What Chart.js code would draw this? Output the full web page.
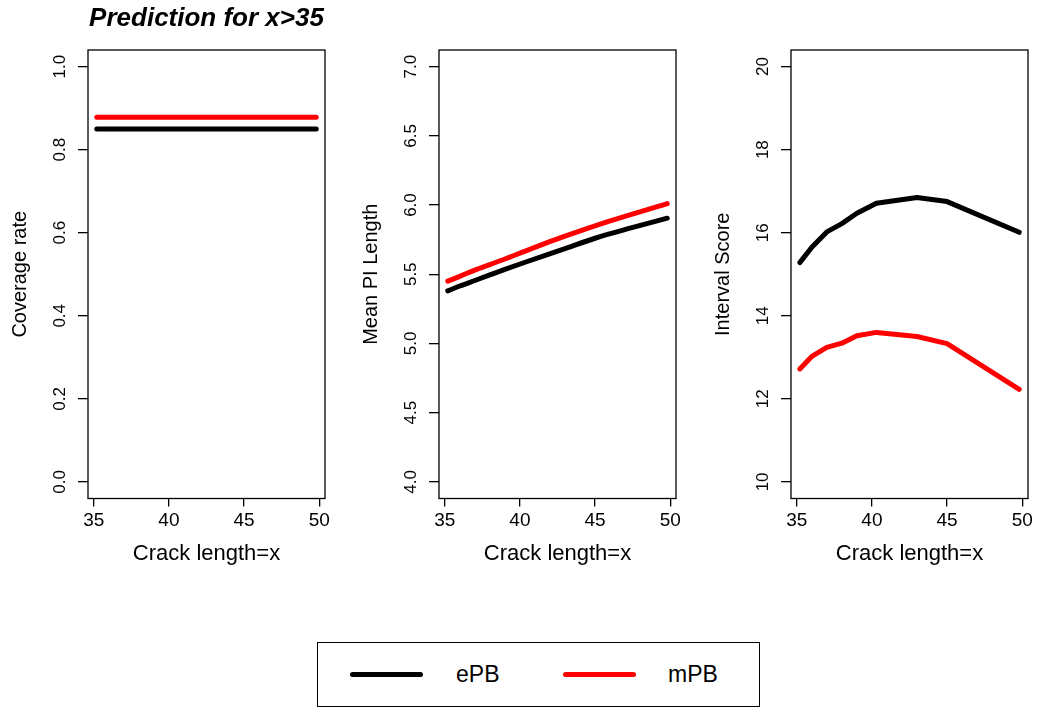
<!DOCTYPE html>
<html>
<head>
<meta charset="utf-8">
<script src="https://cdn.jsdelivr.net/npm/chart.js@4/dist/chart.umd.min.js"></script>
<style>
  body { margin: 0; background: #fff; width: 1038px; height: 709px; overflow: hidden; position: relative;
         font-family: "Liberation Sans", Arial, Helvetica, sans-serif; }
  .panel { position: absolute; top: 0; }
  .legend-box { position: absolute; left: 317px; top: 642px; width: 443px; height: 65px;
                border: 1.4px solid #000; box-sizing: border-box; }
  .legend-line { position: absolute; height: 5px; border-radius: 3px; }
  .legend-text { position: absolute; font-size: 23px; line-height: 26px; color: #000; }
</style>
</head>
<body>
<div class="panel" style="left:8px"><canvas id="coverage" width="329" height="600"></canvas></div>
<div class="panel" style="left:359px"><canvas id="pilength" width="329" height="600"></canvas></div>
<div class="panel" style="left:711px"><canvas id="score" width="329" height="600"></canvas></div>

<div class="legend-box"></div>
<div class="legend-line" style="left:350px; top:672px; width:73px; background:#000"></div>
<div class="legend-text" style="left:456px; top:661px">ePB</div>
<div class="legend-line" style="left:563px; top:672px; width:73px; background:#f00"></div>
<div class="legend-text" style="left:668px; top:661px">mPB</div>

<script>
// Data
const crackLength = [35.2, 36, 37, 38, 39, 40.3, 43, 45, 49.8];

const coverageEPB = [0.85, 0.85, 0.85, 0.85, 0.85, 0.85, 0.85, 0.85, 0.85];
const coverageMPB = [0.878, 0.878, 0.878, 0.878, 0.878, 0.878, 0.878, 0.878, 0.878];

const lengthEPB = [5.38, 5.415, 5.455, 5.495, 5.535, 5.585, 5.685, 5.76, 5.905];
const lengthMPB = [5.45, 5.485, 5.53, 5.57, 5.61, 5.665, 5.775, 5.85, 6.01];

const scoreEPB = [15.28, 15.65, 16.02, 16.22, 16.47, 16.71, 16.85, 16.75, 16.01];
const scoreMPB = [12.72, 13.02, 13.24, 13.34, 13.52, 13.60, 13.50, 13.33, 12.23];

const xTicks = [35, 40, 45, 50];
const coverageTicks = [0, 0.2, 0.4, 0.6, 0.8, 1.0];
const lengthTicks = [4, 4.5, 5, 5.5, 6, 6.5, 7];
const scoreTicks = [10, 12, 14, 16, 18, 20];

const FONT = '"Liberation Sans", Arial, Helvetica, sans-serif';

// box around the plot area + rotated y tick labels (R style)
const framePlugin = {
    id: 'frame',
    afterDraw(chart, args, opts) {
        const ctx = chart.ctx;
        const a = chart.chartArea;
        const y = chart.scales.y;
        ctx.save();
        ctx.strokeStyle = '#000';
        ctx.lineWidth = 1.3;
        ctx.strokeRect(a.left, a.top, a.right - a.left, a.bottom - a.top);

        ctx.fillStyle = '#000';
        ctx.font = '17px ' + FONT;
        ctx.textAlign = 'center';
        ctx.textBaseline = 'alphabetic';
        y.ticks.forEach(t => {
            ctx.save();
            ctx.translate(a.left - 23, y.getPixelForValue(t.value));
            ctx.rotate(-Math.PI / 2);
            ctx.fillText(t.value.toFixed(opts.decimals), 0, 0);
            ctx.restore();
        });

        if (opts.title) {
            ctx.font = 'bold italic 26px ' + FONT;
            ctx.fillText(opts.title, (a.left + a.right) / 2, a.top - 24);
        }
        ctx.restore();
    }
};

function series(values) {
    return crackLength.map((x, i) => ({ x: x, y: values[i] }));
}

function makePanel(id, yTitle, epb, mpb, yTicks, decimals, yMin, yMax, smooth, title) {
    const line = {
        pointRadius: 0,
        borderWidth: 5,
        borderCapStyle: 'round',
        borderJoinStyle: 'round',
        tension: 0,
        cubicInterpolationMode: smooth ? 'monotone' : 'default',
        fill: false
    };
    new Chart(document.getElementById(id), {
        type: 'line',
        data: {
            datasets: [
                Object.assign({ label: 'ePB', data: series(epb), borderColor: '#000' }, line),
                Object.assign({ label: 'mPB', data: series(mpb), borderColor: '#ff0000' }, line)
            ]
        },
        options: {
            responsive: false,
            animation: false,
            devicePixelRatio: 1,
            layout: { padding: { left: 0, top: 50, right: 12, bottom: 0 } },
            plugins: {
                legend: { display: false },
                tooltip: { enabled: false },
                frame: { decimals: decimals, title: title }
            },
            scales: {
                x: {
                    type: 'linear',
                    min: 34.616,
                    max: 50.384,
                    afterBuildTicks: s => { s.ticks = xTicks.map(v => ({ value: v })); },
                    afterFit: s => { s.height = 101.5; },
                    grid: { drawOnChartArea: false, drawTicks: true, tickLength: 8, color: '#000', lineWidth: 1.3 },
                    border: { display: false },
                    ticks: { color: '#000', font: { family: FONT, size: 19 }, padding: 3, maxRotation: 0 },
                    title: { display: true, text: 'Crack length=x', color: '#000',
                             font: { family: FONT, size: 22 }, padding: { top: 0, bottom: 33 } }
                },
                y: {
                    type: 'linear',
                    min: yMin,
                    max: yMax,
                    afterBuildTicks: s => { s.ticks = yTicks.map(v => ({ value: v })); },
                    afterFit: s => { s.width = 80; },
                    grid: { drawOnChartArea: false, drawTicks: true, tickLength: 10, color: '#000', lineWidth: 1.3 },
                    border: { display: false },
                    ticks: { display: false },
                    title: { display: true, text: yTitle, color: '#000',
                             font: { family: FONT, size: 20 }, padding: { top: 0, bottom: 0 } }
                }
            }
        },
        plugins: [framePlugin]
    });
}

makePanel('coverage', 'Coverage rate', coverageEPB, coverageMPB, coverageTicks, 1, -0.04, 1.04, false, 'Prediction for x>35');
makePanel('pilength', 'Mean PI Length', lengthEPB, lengthMPB, lengthTicks, 1, 3.88, 7.12, true);
makePanel('score', 'Interval Score', scoreEPB, scoreMPB, scoreTicks, 0, 9.6, 20.4, false);
</script>
</body>
</html>
